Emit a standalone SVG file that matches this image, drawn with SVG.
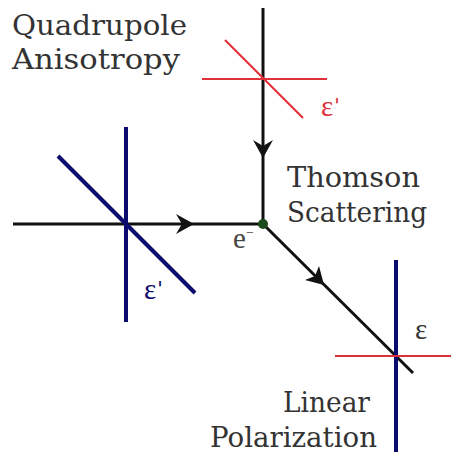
<svg xmlns="http://www.w3.org/2000/svg" width="451" height="457" viewBox="0 0 451 457">
<style>
.lbl{font-family:"DejaVu Serif","Liberation Serif",serif;font-size:28px;fill:#333}
.sym{font-family:"Liberation Serif","DejaVu Serif",serif;font-size:29px}
.pr{font-family:"DejaVu Sans",sans-serif;font-size:20px}
.blk{stroke:#111;stroke-width:3;fill:none}
.blue{stroke:#0c0c6e;stroke-width:4;fill:none}
.red{stroke:#e0303a;stroke-width:2.2;fill:none}
.ah{fill:#111;stroke:none}
</style>
<rect width="451" height="457" fill="#fff"/>
<g id="connectors">
<line class="blk" x1="263" y1="8" x2="263" y2="224"/>
<line class="blk" x1="13" y1="224" x2="263" y2="224"/>
<line class="blk" x1="263" y1="224" x2="413" y2="373"/>
<path class="ah" d="M263,158 L253,140 L263,146 L273,140 Z"/>
<path class="ah" d="M194,224 L176,214 L182,224 L176,234 Z"/>
<path class="ah" d="M324,285 L305,280 L315,276 L319,266 Z"/>
</g>
<g id="quadrupole-polarizer">
<line class="red" x1="202" y1="79" x2="327" y2="79"/>
<line class="red" x1="225" y1="40" x2="303" y2="118"/>
<text class="sym" x="321" y="116" fill="#e0303a">ε<tspan class="pr" dx="1" dy="-4">'</tspan></text>
</g>
<g id="incident-polarizer">
<line class="blue" x1="126" y1="127" x2="126" y2="322"/>
<line class="blue" x1="58" y1="156" x2="195" y2="293"/>
<text class="sym" x="144" y="299" fill="#0c0c6e">ε<tspan class="pr" dx="1" dy="-4">'</tspan></text>
</g>
<g id="electron">
<circle cx="263" cy="224" r="5" fill="#1c4a1c"/>
<text class="sym" x="233" y="248" fill="#444">e<tspan font-size="14" dy="-11">−</tspan></text>
</g>
<g id="scattered-polarizer">
<line class="blue" x1="396" y1="260" x2="396" y2="452"/>
<line class="red" x1="335" y1="356" x2="451" y2="356"/>
<text class="sym" x="415" y="339" fill="#333">ε</text>
</g>
<g id="labels">
<text class="lbl" x="12" y="35" textLength="175" lengthAdjust="spacingAndGlyphs">Quadrupole</text>
<text class="lbl" x="12" y="69" textLength="168" lengthAdjust="spacingAndGlyphs">Anisotropy</text>
<text class="lbl" x="287" y="187" textLength="133" lengthAdjust="spacingAndGlyphs">Thomson</text>
<text class="lbl" x="287" y="222" textLength="140" lengthAdjust="spacingAndGlyphs">Scattering</text>
<text class="lbl" x="283" y="412" textLength="87" lengthAdjust="spacingAndGlyphs">Linear</text>
<text class="lbl" x="210" y="447" textLength="167" lengthAdjust="spacingAndGlyphs">Polarization</text>
</g>
</svg>
